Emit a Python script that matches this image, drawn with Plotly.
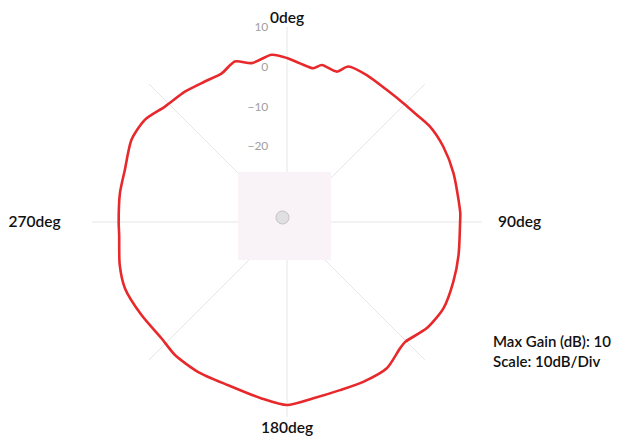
import plotly.graph_objects as go

# Angle (deg, clockwise from north) and gain (dB)
theta_deg = [0, 4.7, 9.7, 12.5, 18.3, 21.5, 28.5, 37, 44.4, 50.5, 56.3, 64.3, 73.7, 87,
             90, 100.9, 109.7, 118.9, 127.3, 135.4, 138.2, 145.7, 154.5, 162.5, 171.5,
             180, 188.2, 199.8, 210.6, 220.1, 227.1, 237.4, 247.7, 255.6, 265.5,
             270, 279.8, 287.8, 297.8, 305.7, 313.4, 321.9, 329.7, 336.3, 342, 347.5, 354.8, 360]
gain_db = [2.2, 1.0, 0.2, 1.4, 0.8, 3.0, 3.0, 2.6, 2.8, 3.3, 4.2, 4.6, 4.6, 4.6,
           4.5, 4.9, 5.4, 5.9, 5.1, 3.3, 3.6, 5.5, 5.5, 5.3, 5.8,
           7.0, 5.8, 4.6, 4.8, 4.7, 4.0, 4.4, 5.0, 4.4, 3.3,
           3.3, 3.6, 3.8, 5.2, 5.0, 3.2, 2.6, 1.9, 1.8, 3.4, 1.9, 3.2, 2.2]

radial_ticks = [10, 0, -10, -20]
radial_range = [-39, 10]
angle_ticks = [0, 45, 90, 135, 180, 225, 270, 315]
NB = "\u00a0"
angle_labels = ["0deg", "", NB * 4 + "90deg", "", "180deg", "", "270deg" + NB * 8, ""]
note_text = "Max Gain (dB): 10<br>Scale: 10dB/Div"

# page has an 8px body margin; work in page pixels and convert
OFF = 8
W, H = 624 - OFF, 439 - OFF
CX, CY, R = 287, 222, 195          # polar centre / radius in page pixels
ML = CX - R - OFF
MT = CY - R - OFF
MR = W - ML - 2 * R
MB = H - MT - 2 * R
PW, PH = 2 * R, 2 * R


def px_x(x):
    return (x - OFF - ML) / PW


def px_y(y):
    return (H - MB - (y - OFF)) / PH


fig = go.Figure()
fig.add_trace(go.Scatterpolar(
    r=gain_db, theta=theta_deg, mode="lines",
    line=dict(color="#e8292c", width=2.6, shape="spline", smoothing=0.7),
    hoverinfo="skip", showlegend=False,
))

fig.update_layout(
    width=W, height=H,
    margin=dict(l=ML, r=MR, t=MT, b=MB, autoexpand=False),
    paper_bgcolor="white",
    font=dict(family="Lato, Open Sans, sans-serif", color="#1a1a1a"),
    polar=dict(
        domain=dict(x=[0, 1], y=[0, 1]),
        bgcolor="white",
        radialaxis=dict(
            range=radial_range, tickvals=radial_ticks,
            showgrid=False, showline=False,
            ticks="outside", ticklen=14, tickcolor="rgba(0,0,0,0)",
            angle=90, tickangle=90, side="counterclockwise",
            tickfont=dict(family="Lato, sans-serif", size=12, color="#a0a0a0"),
        ),
        angularaxis=dict(
            rotation=90, direction="clockwise",
            tickvals=angle_ticks, ticktext=angle_labels,
            showline=False, ticks="",
            gridcolor="#e6e6e6", gridwidth=1,
            tickfont=dict(family="Lato, sans-serif", size=15.5, color="#111111",
                          weight=600),
        ),
    ),
    shapes=[
        dict(type="rect", xref="paper", yref="paper", layer="above",
             x0=px_x(238), x1=px_x(331), y0=px_y(260), y1=px_y(172),
             fillcolor="#f9f2f7", line=dict(width=0)),
        dict(type="circle", xref="paper", yref="paper", layer="above",
             x0=px_x(276), x1=px_x(289), y0=px_y(224), y1=px_y(211),
             fillcolor="#e0e0e0", line=dict(color="#c4c4c4", width=1)),
    ],
    annotations=[
        dict(text=note_text, xref="paper", yref="paper",
             x=px_x(491), y=px_y(330), xanchor="left", yanchor="top",
             align="left", showarrow=False,
             font=dict(family="Lato, sans-serif", size=15, color="#111111",
                       weight=600)),
    ],
)

fig.write_html("out.html")
